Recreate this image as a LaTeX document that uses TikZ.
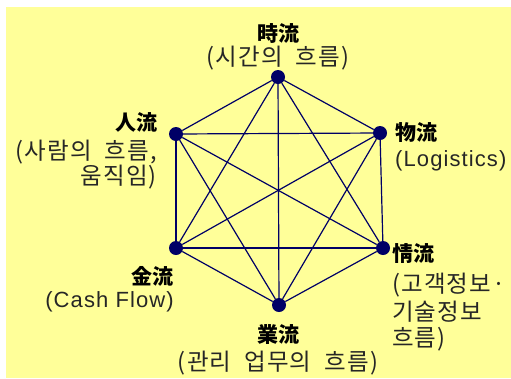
\documentclass[tikz,border=0pt]{standalone}
\usepackage{fontspec}
\newfontfamily\kr[LetterSpace=5,WordSpace=2]{Noto Sans CJK KR}
\newfontfamily\krb{Noto Sans CJK KR}
\newfontfamily\lat[LetterSpace=5]{Liberation Sans}
\definecolor{bgyellow}{HTML}{FFFF99}
\definecolor{navy}{HTML}{000066}
\tikzset{
  dot/.style={circle, fill=navy, draw=none, minimum size=14pt, inner sep=0pt},
  edge/.style={draw=navy, line width=1.2pt},
  lab/.style={font=\krb\bfseries\fontsize{21}{23}\selectfont, inner sep=0pt},
  sub/.style={font=\kr\fontsize{23.5}{25}\selectfont, inner sep=0pt, text=black!85},
  subl/.style={font=\lat\fontsize{22}{24}\selectfont, inner sep=0pt, text=black!85}
}
\begin{document}
\begin{tikzpicture}[x=1pt, y=-1pt]
\useasboundingbox (0,0) rectangle (511,378);
\fill[bgyellow] (6,7) rectangle (511,378);
% dots
\node[dot] (t)  at (278,77) {};
\node[dot] (ul) at (176,134) {};
\node[dot] (ur) at (380,133) {};
\node[dot] (ll) at (176,248) {};
\node[dot] (lr) at (383,248) {};
\node[dot] (b)  at (279,305) {};
% edges (complete graph)
\foreach \a/\c in {t/ul,t/ur,t/ll,t/lr,t/b,ul/ur,ul/ll,ul/lr,ul/b,ur/ll,ur/lr,ur/b,ll/lr,ll/b,lr/b}
  \draw[edge] (\a) -- (\c);
% labels
\node[lab] (tA) at (278,33) {時流};
\node[sub] (tB) at (278,58) {(시간의 흐름)};
\node[lab, anchor=east] (ulA) at (158,122) {人流};
\node[sub, anchor=east] (ulB) at (157,152) {(사람의 흐름,};
\node[sub, anchor=east] (ulC) at (157,177) {움직임)};
\node[lab, anchor=west] (urA) at (395,133) {物流};
\node[subl, anchor=west] (urB) at (395,161) {(Logistics)};
\node[lab, anchor=west] (lrA) at (392,254) {情流};
\node[sub, anchor=west] (lrB) at (392,285) {(고객정보·};
\node[sub, anchor=west] (lrC) at (392,312) {기술정보};
\node[sub, anchor=west] (lrD) at (392,339) {흐름)};
\node[lab, anchor=east] (llA) at (174,276) {金流};
\node[subl, anchor=east] (llB) at (174,302) {(Cash Flow)};
\node[lab] (bA) at (278,335) {業流};
\node[sub] (bB) at (278,363) {(관리 업무의 흐름)};
\end{tikzpicture}
\end{document}
